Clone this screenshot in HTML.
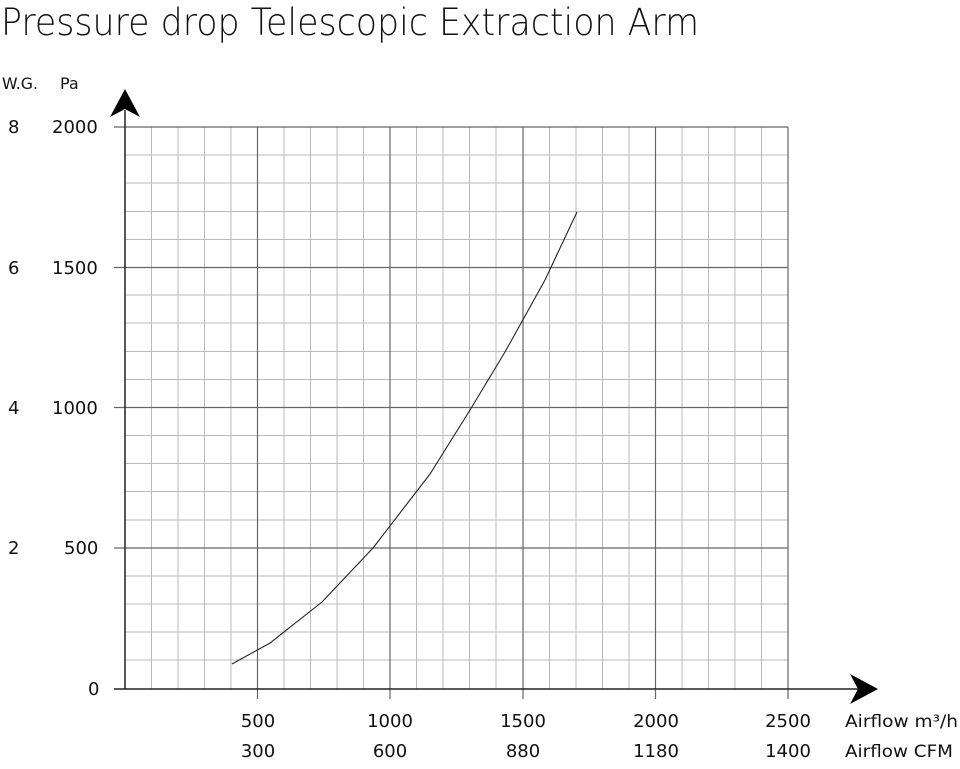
<!DOCTYPE html>
<html><head><style>
body{margin:0;background:#fff;width:960px;height:764px;overflow:hidden}
svg text{font-family:"DejaVu Sans","Liberation Sans",sans-serif;fill:#111}
</style></head><body>
<svg width="960" height="764" xmlns="http://www.w3.org/2000/svg">
<text x="1" y="35" font-size="37" textLength="698" lengthAdjust="spacingAndGlyphs" style="font-weight:300">Pressure drop Telescopic Extraction Arm</text>
<g stroke="#bbb" stroke-width="1">
<path d="M151.5 127V689M178 127V689M204.5 127V689M231 127V689M284 127V689M310.5 127V689M337 127V689M363.5 127V689M416.5 127V689M443 127V689M469.5 127V689M496 127V689M549.5 127V689M576 127V689M602.5 127V689M629 127V689M682 127V689M708.5 127V689M735 127V689M761.5 127V689"/>
<path d="M125 155H788M125 183H788M125 211.5H788M125 239.5H788M125 295H788M125 323H788M125 351.5H788M125 379.5H788M125 435.5H788M125 463.5H788M125 491.5H788M125 520H788M125 576H788M125 604H788M125 632H788M125 660H788"/>
</g>
<g stroke="#666" stroke-width="1.2">
<path d="M257.5 127V699M390 127V699M523 127V699M655.5 127V699M788 127V699"/>
<path d="M114 127H788M114 267.5H788M114 407.5H788M114 548H788"/>
</g>
<g stroke="#222" stroke-width="1.5">
<path d="M125 110V689M114 689H862"/>
</g>
<path d="M125 89L140 117L125 109L110 117Z" fill="#000"/>
<path d="M878 689L850 674L858 689L850 704Z" fill="#000"/>
<polyline fill="none" stroke="#222" stroke-width="1.1" points="232,664 270,643 322,602 373,548 430,474 470,410 505,352 545,280 577,212"/>
<g font-size="18">
<text x="2" y="89" font-size="16" textLength="36" lengthAdjust="spacingAndGlyphs">W.G.</text><text x="60" y="89" font-size="16">Pa</text>
<text x="8" y="133">8</text><text x="52" y="133">2000</text>
<text x="8" y="274">6</text><text x="52" y="274">1500</text>
<text x="8" y="414">4</text><text x="52" y="414">1000</text>
<text x="8" y="554">2</text><text x="64" y="554">500</text>
<text x="88" y="695">0</text>
<g text-anchor="middle">
<text x="258" y="727">500</text><text x="390" y="727">1000</text><text x="523" y="727">1500</text><text x="656" y="727">2000</text><text x="788" y="727">2500</text>
<text x="258" y="757">300</text><text x="390" y="757">600</text><text x="523" y="757">880</text><text x="656" y="757">1180</text><text x="788" y="757">1400</text>
</g>
<text x="845" y="727" font-size="17" textLength="113" lengthAdjust="spacingAndGlyphs">Airflow m³/h</text>
<text x="845" y="757" font-size="17" textLength="108" lengthAdjust="spacingAndGlyphs">Airflow CFM</text>
</g>
</svg>
</body></html>
